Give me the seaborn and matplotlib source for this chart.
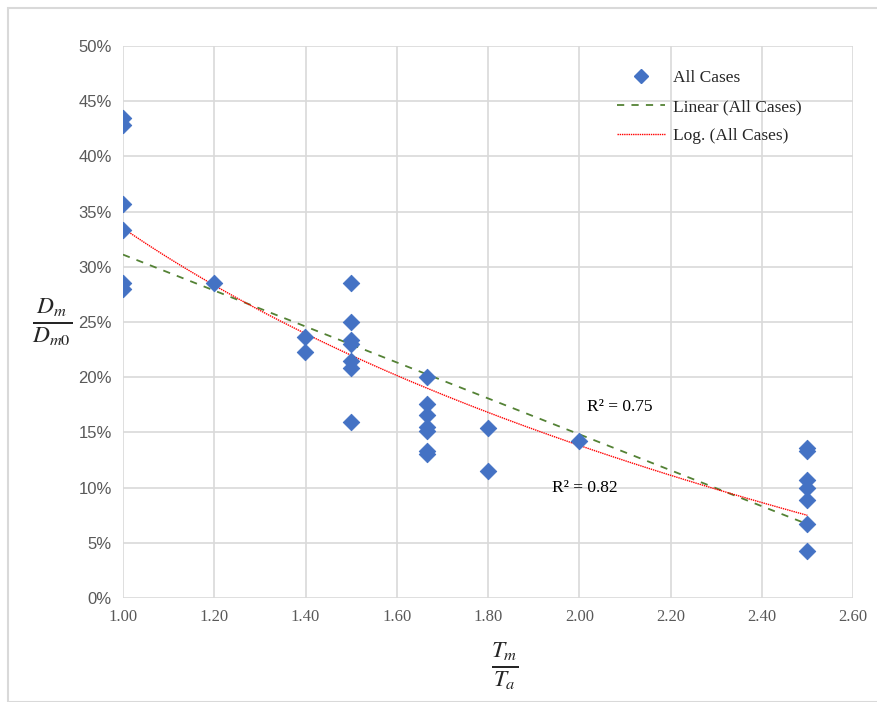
import numpy as np
import pandas as pd
import matplotlib
matplotlib.use("Agg")
import matplotlib.pyplot as plt
import seaborn as sns
from matplotlib.ticker import PercentFormatter, MultipleLocator
from matplotlib.patches import Rectangle
from matplotlib.lines import Line2D

# Tm/Ta ratio and Dm/Dm0 (%)
tm_ta = [1.00, 1.00, 1.00, 1.00, 1.00, 1.00,
         1.20,
         1.40, 1.40,
         1.50, 1.50, 1.50, 1.50, 1.50, 1.50, 1.50,
         1.667, 1.667, 1.667, 1.667, 1.667, 1.667, 1.667,
         1.80, 1.80,
         2.00,
         2.50, 2.50, 2.50, 2.50, 2.50, 2.50, 2.50]
dm_dm0 = [43.5, 42.8, 35.7, 33.3, 28.5, 28.0,
          28.5,
          23.6, 22.3,
          28.5, 25.0, 23.4, 23.0, 21.5, 20.8, 15.9,
          20.0, 17.6, 16.6, 15.5, 15.1, 13.3, 13.0,
          15.4, 11.5,
          14.2,
          13.6, 13.3, 10.7, 10.0, 8.9, 6.7, 4.3]

r2_linear_label = "R² = 0.75"
r2_log_label = "R² = 0.82"

df = pd.DataFrame({"ratio": tm_ta, "dm": dm_dm0})

# trendlines fitted to the points, like Excel does
x = np.array(tm_ta)
y = np.array(dm_dm0)
lin = np.polyfit(x, y, 1)
logc = np.polyfit(np.log(x), y, 1)
xs = np.linspace(1.0, 2.5, 100)
trend = pd.DataFrame({
    "ratio": xs,
    "linear": np.polyval(lin, xs),
    "log": np.polyval(logc, np.log(xs)),
})

sns.set_style("white")
plt.rcParams["mathtext.fontset"] = "stix"
serif = ["Liberation Serif", "DejaVu Serif"]
sans = ["Liberation Sans", "DejaVu Sans"]

fig = plt.figure(figsize=(8.78, 7.02), dpi=100)
ax = fig.add_axes([123 / 878, (702 - 598) / 702, 730 / 878, 552 / 702])

sns.lineplot(data=trend, x="ratio", y="linear", ax=ax, color="#548235",
             linestyle=(0, (4, 4)), linewidth=1.3, zorder=3)
sns.lineplot(data=trend, x="ratio", y="log", ax=ax, color="#ff0000",
             linestyle=(0, (1, 0.6)), linewidth=1.0, zorder=3)
sns.scatterplot(data=df, x="ratio", y="dm", ax=ax, marker="D", s=70,
                color="#4472c4", edgecolor="#4472c4", zorder=4)

ax.set_xlim(1.0, 2.6)
ax.set_ylim(0, 50)
ax.xaxis.set_major_locator(MultipleLocator(0.2))
ax.yaxis.set_major_locator(MultipleLocator(5))
ax.yaxis.set_major_formatter(PercentFormatter(100, decimals=0))
ax.xaxis.set_major_formatter(plt.FuncFormatter(lambda v, p: f"{v:.2f}"))
ax.grid(True, color="#d9d9d9", linewidth=1.2)
ax.set_axisbelow(True)
for s in ax.spines.values():
    s.set_visible(False)
ax.tick_params(length=0, colors="#595959", pad=8)
for lab in ax.get_xticklabels():
    lab.set_family(serif)
    lab.set_fontsize(12)
for lab in ax.get_yticklabels():
    lab.set_family(sans)
    lab.set_fontsize(12)

ax.set_xlabel("")
ax.set_ylabel("")
fig.text(505 / 878, 1 - 666 / 702, r"$\frac{T_m}{T_a}$", fontsize=24,
         ha="center", va="center", color="#262626")
fig.text(52 / 878, 1 - 322 / 702, r"$\frac{D_m}{D_{m0}}$", fontsize=24,
         ha="center", va="center", color="#262626")

ax.text(2.089, 17.3, r2_linear_label, fontsize=12.5, family=serif,
        ha="center", va="center", color="#000000")
ax.text(2.013, 9.95, r2_log_label, fontsize=12.5, family=serif,
        ha="center", va="center", color="#000000")

handles = [
    Line2D([], [], marker="D", linestyle="none", color="#4472c4", markersize=7),
    Line2D([], [], color="#548235", linestyle=(0, (4, 4)), linewidth=1.3),
    Line2D([], [], color="#ff0000", linestyle=(0, (1, 0.6)), linewidth=1.0),
]
labels = ["All Cases", "Linear (All Cases)", "Log. (All Cases)"]
ax.legend(handles, labels, loc="upper left", bbox_to_anchor=(0.655, 0.985),
          frameon=False, prop={"family": serif, "size": 12.5},
          handlelength=2.8, labelspacing=0.75, handletextpad=0.45)

# outer chart frame
fig.patches.append(Rectangle((8 / 878, 0), 1, 1 - 8 / 702, transform=fig.transFigure,
                             fill=False, edgecolor="#d9d9d9", linewidth=1.5))

fig.savefig("out.png", dpi=100)
